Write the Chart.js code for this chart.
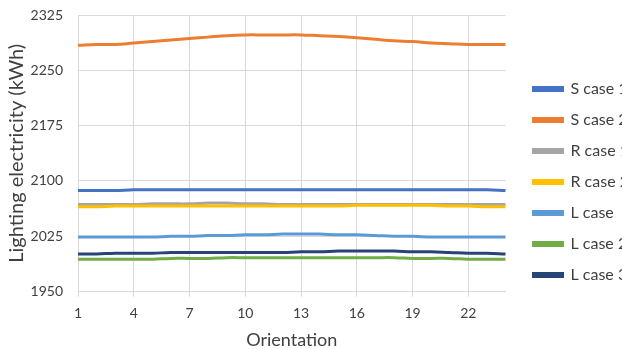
<!DOCTYPE html>
<html>
<head>
<meta charset="utf-8">
<script src="https://cdn.jsdelivr.net/npm/chart.js@4/dist/chart.umd.min.js"></script>
<style>
  html, body { margin: 0; padding: 0; background: #fff; overflow: hidden; }
  #wrap { position: relative; width: 622px; height: 349px; }
</style>
</head>
<body>
<div id="wrap"><canvas id="chart"></canvas></div>
<script>
// Orientation steps 1..24
const orientations = ['1','2','3','4','5','6','7','8','9','10','11','12','13','14','15','16','17','18','19','20','21','22','23','24'];

// Annual lighting electricity per case (kWh)
const sCase1 = [2087,2087,2087,2088,2088,2088,2088,2088,2088,2088,2088,2088,2088,2088,2088,2088,2088,2088,2088,2088,2088,2088,2088,2087];
const sCase2 = [2284,2285,2285,2287,2289,2291,2293,2295,2297,2298,2298,2298,2298,2297,2296,2294,2292,2290,2289,2287,2286,2285,2285,2285];
const rCase1 = [2068,2068,2068,2068,2069,2069,2069,2070,2070,2069,2069,2068,2068,2068,2068,2068,2068,2068,2068,2068,2068,2068,2068,2068];
const rCase2 = [2065,2065,2066,2066,2066,2066,2066,2066,2066,2066,2066,2066,2066,2066,2066,2067,2067,2067,2067,2067,2066,2066,2065,2065];
const lCase1 = [2024,2024,2024,2024,2024,2025,2025,2026,2026,2027,2027,2028,2028,2028,2027,2027,2026,2025,2025,2024,2024,2024,2024,2024];
const lCase2 = [1994,1994,1994,1994,1994,1995,1995,1995,1996,1996,1996,1996,1996,1996,1996,1996,1996,1996,1995,1995,1995,1994,1994,1994];
const lCase3 = [2001,2001,2002,2002,2002,2003,2003,2003,2003,2003,2003,2003,2004,2004,2005,2005,2005,2005,2004,2004,2003,2002,2002,2001];

const seriesNames = ['S case 1','S case 2','R case 1','R case 2','L case  1','L case 2','L case 3'];
const seriesData = [sCase1, sCase2, rCase1, rCase2, lCase1, lCase2, lCase3];
const seriesColors = ['#4472C4','#ED7D31','#A5A5A5','#FFC000','#5B9BD5','#70AD47','#264478'];

const textColor = '#404040';
const gridColor = '#d9d9d9';
const fontFamily = 'Lato, "Open Sans", sans-serif';

const datasets = seriesNames.map((name, i) => ({
  label: name,
  data: seriesData[i],
  borderColor: seriesColors[i],
  backgroundColor: seriesColors[i],
  borderWidth: 3,
  pointRadius: 0,
  tension: 0.4,
  fill: false,
  order: -i            // later series are painted on top
}));

new Chart(document.getElementById('chart'), {
  type: 'line',
  data: { labels: orientations, datasets },
  options: {
    responsive: true,
    maintainAspectRatio: false,
    animation: false,
    layout: { padding: { top: 15, left: 1, right: 0, bottom: 0 } },
    plugins: {
      tooltip: { enabled: false },
      legend: {
        position: 'right',
        align: 'center',
        labels: {
          boxWidth: 29,
          boxHeight: 3,
          padding: 15,
          color: textColor,
          font: { family: fontFamily, size: 16 },
          sort: (a, b) => a.datasetIndex - b.datasetIndex
        }
      }
    },
    scales: {
      x: {
        type: 'category',
        offset: false,
        grid: {
          color: ctx => (ctx.index % 3 === 0 ? gridColor : 'rgba(0,0,0,0)'),
          drawTicks: true,
          tickLength: 5
        },
        border: { display: true, color: gridColor },
        ticks: {
          autoSkip: false,
          maxRotation: 0,
          padding: 8,
          color: textColor,
          font: { family: fontFamily, size: 14 },
          callback: function (value, index) {
            return index % 3 === 0 ? this.getLabelForValue(value) : '';
          }
        },
        title: {
          display: true,
          text: 'Orientation',
          color: textColor,
          font: { family: fontFamily, size: 18 },
          padding: { top: 0, bottom: -2 }
        }
      },
      y: {
        min: 1950,
        max: 2325,
        grid: { color: gridColor, drawTicks: false },
        border: { display: false },
        ticks: {
          stepSize: 75,
          padding: 15,
          color: textColor,
          font: { family: fontFamily, size: 14 },
          callback: value => String(value)
        },
        title: {
          display: true,
          text: 'Lighting electricity (kWh)',
          color: textColor,
          font: { family: fontFamily, size: 20 },
          padding: { top: 4, bottom: 4 }
        },
        afterFit: scale => {
          scale.width = 77;
          scale.paddingTop = 0;
          scale.paddingBottom = 0;
        }
      },
      // empty right-hand band that separates the plot from the legend
      gap: {
        type: 'linear',
        position: 'right',
        display: true,
        grid: { display: false },
        border: { display: false },
        ticks: { display: false },
        afterFit: scale => { scale.width = 13; }
      }
    }
  }
});
</script>
</body>
</html>
